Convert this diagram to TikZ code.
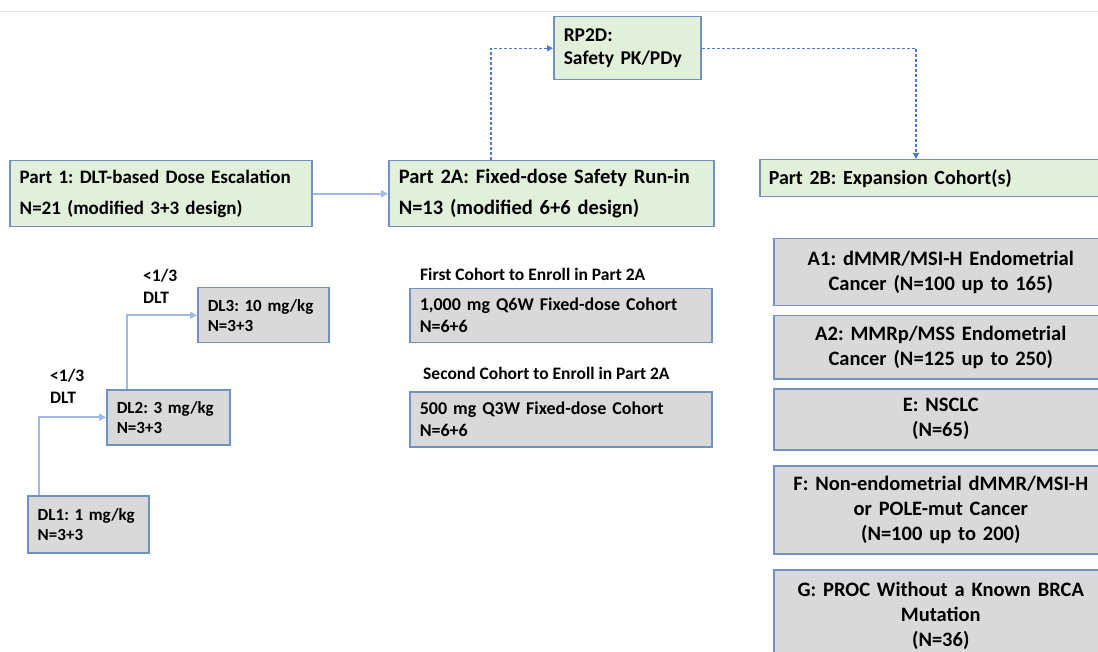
\documentclass[tikz,border=0pt]{standalone}
\usepackage{fontspec}
\setmainfont{Carlito}
\usepackage{tikz}
\usetikzlibrary{arrows.meta, positioning}
\definecolor{boxline}{RGB}{112,146,192}
\definecolor{greenfill}{RGB}{226,239,218}
\definecolor{grayfill}{RGB}{217,217,217}
\definecolor{linkblue}{RGB}{160,184,226}
\definecolor{dashblue}{RGB}{80,120,200}
\tikzset{%
    edge/.style={%
        draw=linkblue,
        line width=2pt,
        -{Triangle[length=7pt,width=7pt]},
    },
    dashedge/.style={%
        draw=dashblue,
        line width=1.2pt,
        dash pattern=on 3pt off 2pt,
        -{Triangle[length=6pt,width=6pt]},
    },
    phase/.style={%
        rectangle,
        draw=boxline, line width=1.5pt,
        fill=greenfill,
        anchor=north west,
        inner xsep=10pt,
        align=left,
        font=\bfseries\fontsize{20.5}{31}\selectfont,
    },
    dose/.style={%
        rectangle,
        draw=boxline, line width=1.5pt,
        fill=grayfill,
        anchor=north west,
        inner xsep=10pt,
        align=left,
        font=\bfseries\fontsize{17}{20}\selectfont,
    },
    cohort/.style={%
        dose,
        font=\bfseries\fontsize{18}{22}\selectfont,
    },
    arm/.style={%
        rectangle,
        draw=boxline, line width=1.5pt,
        fill=grayfill,
        anchor=north west,
        minimum width=334pt,
        text width=314pt,
        inner xsep=10pt,
        align=center,
        font=\bfseries\fontsize{20.5}{25}\selectfont,
    },
    note/.style={%
        inner sep=0pt,
        anchor=base west,
        align=left,
        font=\bfseries\fontsize{17.5}{21.5}\selectfont,
    },
}

\begin{document}
\frenchspacing
\begin{tikzpicture}[x=1pt, y=-1pt]
	\useasboundingbox (0,0) rectangle (1098,652);
	\clip (0,0) rectangle (1098,652);
	\draw[black!10, line width=1pt] (0,12) -- (1098,12);

	\coordinate (rise) at (491,0);
	\coordinate (drop) at (916,0);
	\coordinate (lift_1) at (39,0);
	\coordinate (lift_2) at (127,0);

	\node [phase, text width=282pt, minimum height=66pt, font=\bfseries\fontsize{19}{31}\selectfont] at (9,160) (part_1) {Part 1: DLT-based Dose Escalation\\N=21 (modified 3+3 design)};
	\node [phase, text width=305pt, minimum height=66pt] at (388,160) (part_2a) {Part 2A: Fixed-dose Safety Run-in\\N=13 (modified 6+6 design)};
	\node [phase, text width=127pt, minimum height=63pt, font=\bfseries\fontsize{19.5}{23.5}\selectfont] at (553,16) (rp2d) {RP2D:\\Safety PK/PDy};
	\node [phase, inner xsep=9pt, text width=330pt, minimum height=37pt, font=\bfseries\fontsize{20}{24}\selectfont] at (759,159) (part_2b) {Part 2B: Expansion Cohort(s)};

	\node [dose, text width=111pt, minimum height=55pt] at (197,287) (dl_3) {DL3: 10 mg/kg\\N=3+3};
	\node [dose, text width=103pt, minimum height=55pt] at (106,389) (dl_2) {DL2: 3 mg/kg\\N=3+3};
	\node [dose, text width=101pt, minimum height=57pt] at (27,495) (dl_1) {DL1: 1 mg/kg\\N=3+3};
	\node [note] at (143,303.3) (dlt_3) {<1/3\\DLT};
	\node [note] at (50,403.3) (dlt_2) {<1/3\\DLT};

	\node [cohort, text width=282pt, minimum height=54pt] at (409,288) (coh_1) {1,000 mg Q6W Fixed-dose Cohort\\N=6+6};
	\node [cohort, text width=282pt, minimum height=55pt] at (409,391) (coh_2) {500 mg Q3W Fixed-dose Cohort\\N=6+6};
	\node [note] at (420,280.5) (first_lbl) {First Cohort to Enroll in Part 2A};
	\node [note] at (423,379) (second_lbl) {Second Cohort to Enroll in Part 2A};

	\node [arm, minimum height=67pt] at (773,238) (arm_a1) {A1: dMMR/MSI-H Endometrial\\Cancer (N=100 up to 165)};
	\node [arm, minimum height=63pt] at (773,315) (arm_a2) {A2: MMRp/MSS Endometrial\\Cancer (N=125 up to 250)};
	\node [arm, minimum height=61pt] at (773,388) (arm_e) {E: NSCLC\\(N=65)};
	\node [arm, minimum height=88pt] at (773,465) (arm_f) {F: Non-endometrial dMMR/MSI-H\\or POLE-mut Cancer\\(N=100 up to 200)};
	\node [arm, minimum height=92pt] at (773,569) (arm_g) {G: PROC Without a Known BRCA\\Mutation\\(N=36)};

	\draw[edge] (part_1) -- (part_2a);
	\draw[dashedge] (part_2a.north -| rise) |- (rp2d.west);
	\draw[dashedge] (rp2d.east) -| (part_2b.north -| drop);

	\draw[edge] (dl_1.north -| lift_1) |- (dl_2.west);
	\draw[edge] (dl_2.north -| lift_2) |- (dl_3.west);
\end{tikzpicture}
\end{document}
